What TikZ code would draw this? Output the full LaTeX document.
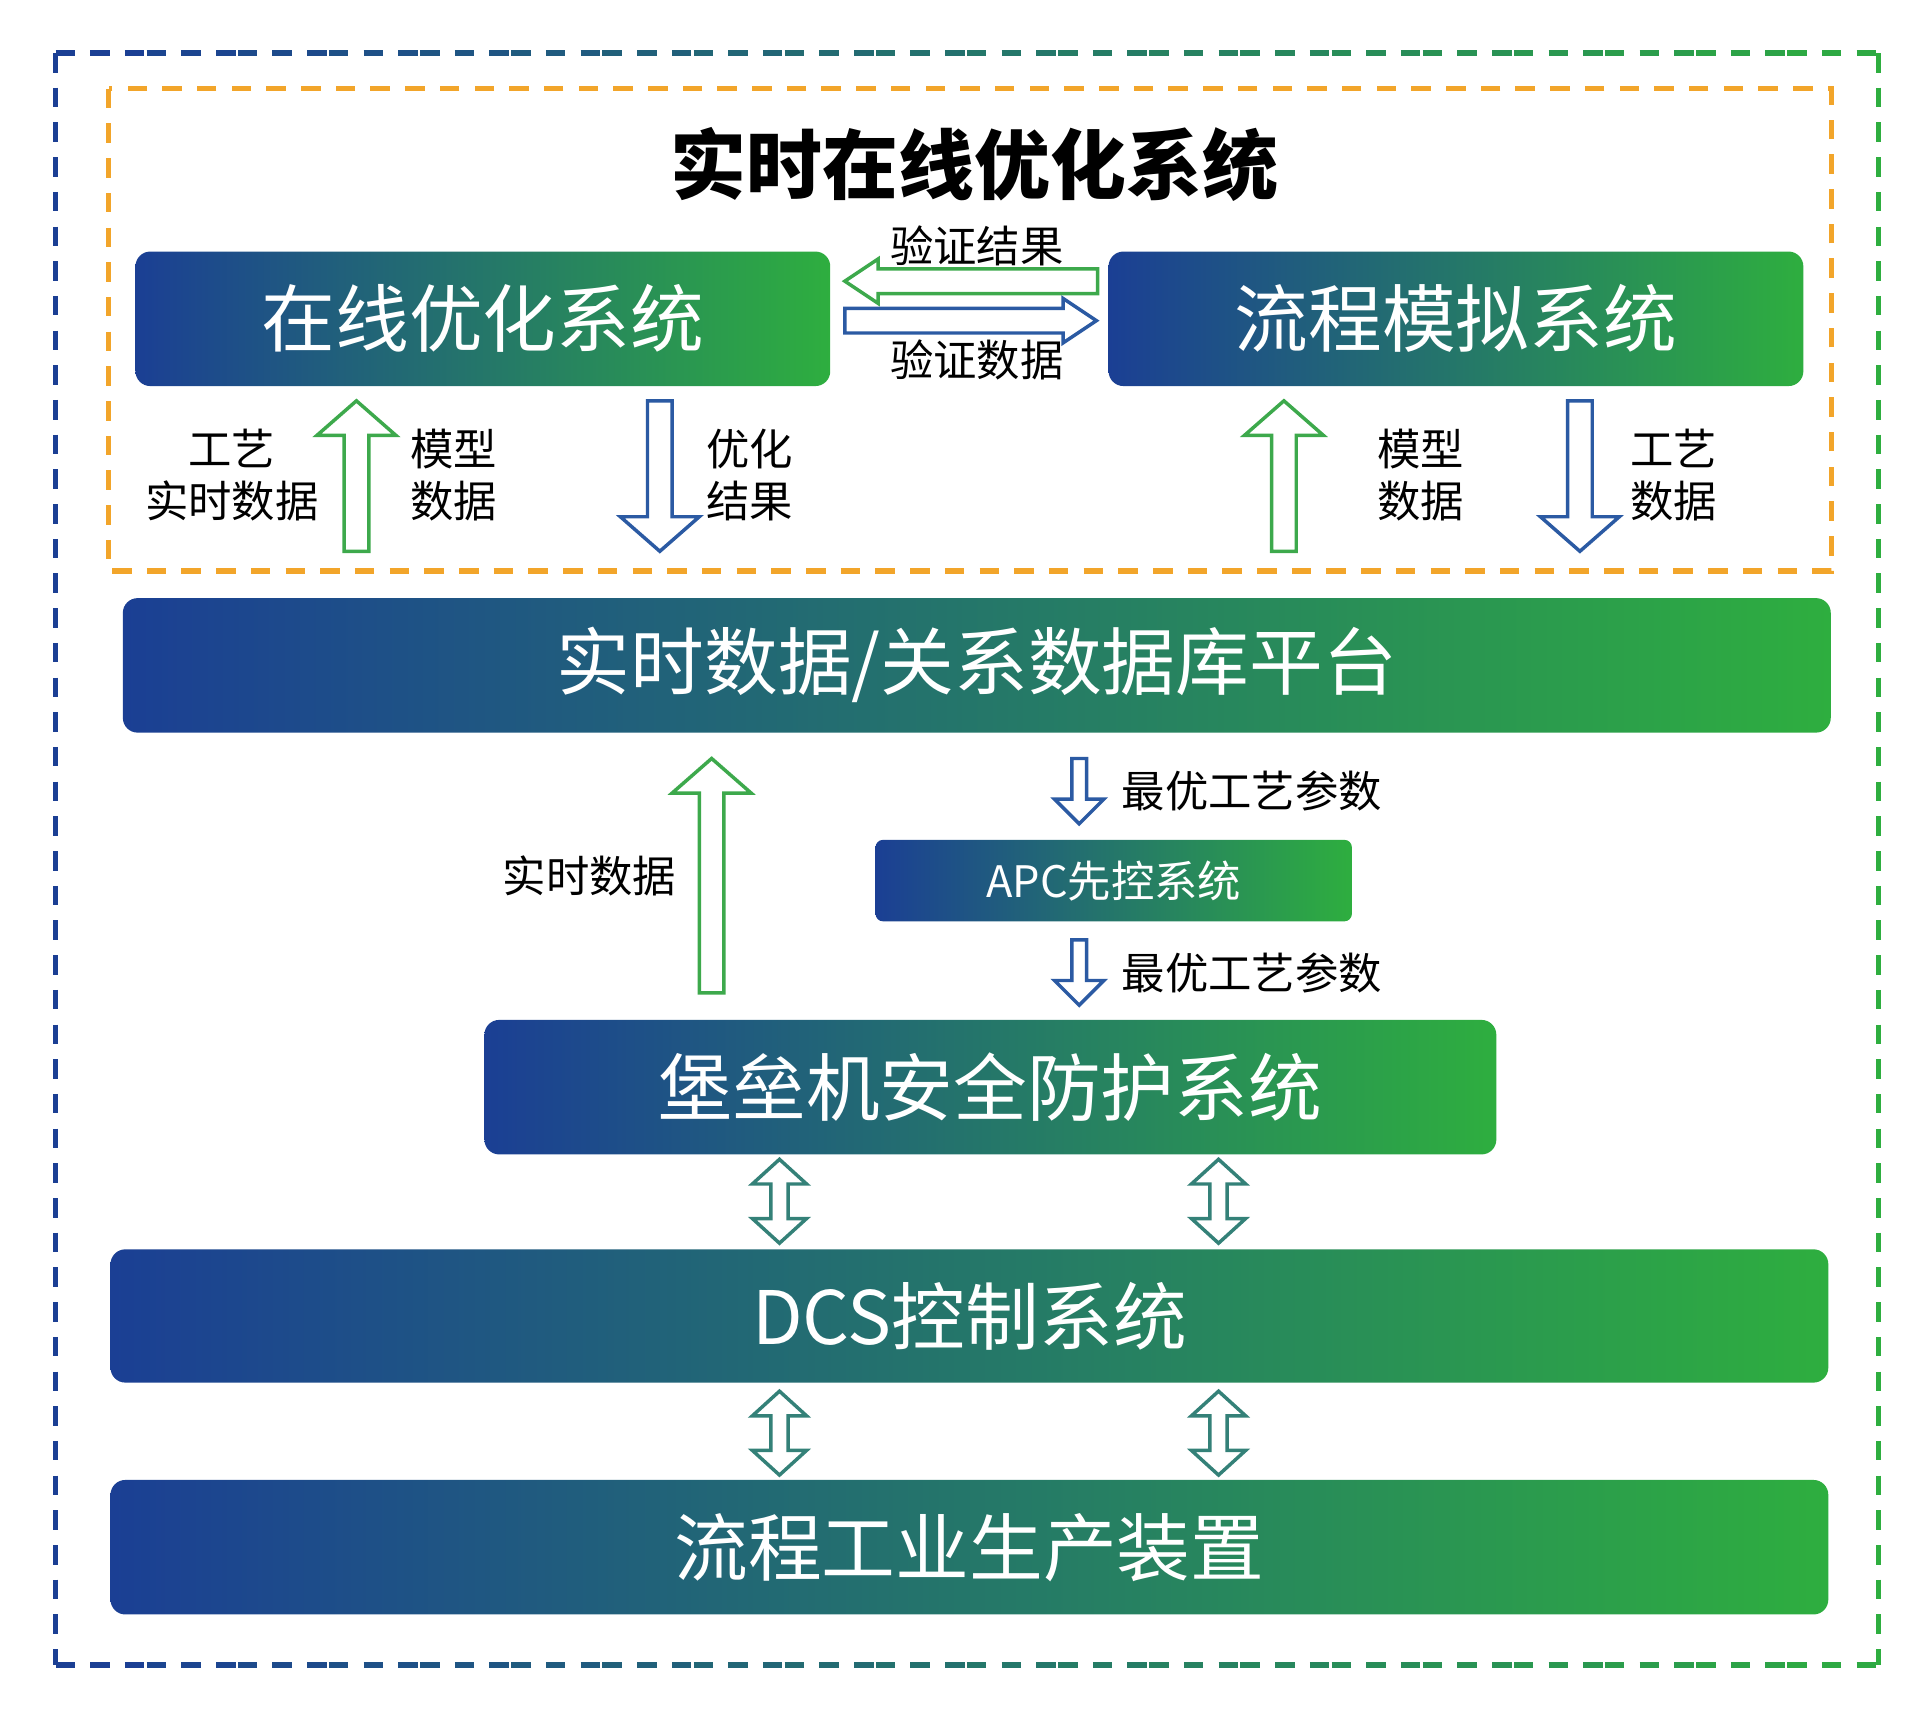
\documentclass[tikz,border=0pt]{standalone}
\usepackage{fontspec}
\setmainfont{Noto Sans CJK SC}
\usetikzlibrary{positioning}
\definecolor{dblue}{HTML}{1B3F94}
\definecolor{dgreen}{HTML}{2EAE3F}
\definecolor{aorange}{HTML}{F2A52A}
\definecolor{ablue}{HTML}{2B5AA3}
\definecolor{agreen}{HTML}{3DA94C}
\tikzset{
  box/.style={rectangle, rounded corners=0.12cm, left color=dblue, right color=dgreen, text=white, inner sep=0, font=\fontsize{17}{17}\selectfont},
  lbl/.style={font=\fontsize{10}{12}\selectfont, align=center, inner sep=0},
  hol/.style={line width=0.8pt, fill=white, line join=miter},
  frame/.style={line width=1.2pt, dash pattern=on 4.5pt off 3.5pt},
}
% hollow arrows: x, tail y, tip y, colour
\newcommand\uparr[4]{\draw[hol,draw=#4] (#1-10,#2) -- (#1-10,#3+28) -- (#1-32,#3+28) -- (#1,#3) -- (#1+32,#3+28) -- (#1+10,#3+28) -- (#1+10,#2) -- cycle;}
\newcommand\dnarr[4]{\draw[hol,draw=#4] (#1-10,#2) -- (#1-10,#3-28) -- (#1-32,#3-28) -- (#1,#3) -- (#1+32,#3-28) -- (#1+10,#3-28) -- (#1+10,#2) -- cycle;}
\newcommand\smdn[3]{\draw[hol,draw=#3] (#1-6,#2) -- (#1-6,#2+33) -- (#1-20,#2+33) -- (#1,#2+53) -- (#1+20,#2+33) -- (#1+6,#2+33) -- (#1+6,#2) -- cycle;}
\newcommand\dblarr[3]{\draw[hol,draw=#3] (#1-7,#2+20) -- (#1-22,#2+20) -- (#1,#2) -- (#1+22,#2+20) -- (#1+7,#2+20) -- (#1+7,#2+48) -- (#1+22,#2+48) -- (#1,#2+68) -- (#1-22,#2+48) -- (#1-7,#2+48) -- cycle;}
\begin{document}
\begin{tikzpicture}[x=0.01cm, y=-0.01cm]
  \useasboundingbox (0,0) rectangle (1560,1386);
  % outer frame
  \foreach \i in {0,...,19}{
    \pgfmathsetmacro\p{100-\i*5}
    \draw[frame, dblue!\p!dgreen] (45+\i*73.9,43) -- (45+\i*73.9+73.9,43);
    \draw[frame, dblue!\p!dgreen] (45+\i*73.9,1350) -- (45+\i*73.9+73.9,1350);
  }
  \draw[frame, dblue] (45,43) -- (45,1350);
  \draw[frame, dgreen] (1523,43) -- (1523,1350);
  \draw[frame, aorange] (88,72) rectangle (1485,463);
  \node (title) at (790,133) {\fontsize{17.5}{18}\selectfont\bfseries 实时在线优化系统};

  \node (opt) [box, minimum width=5.63cm, minimum height=1.09cm] at (391.5,258.5) {在线优化系统};
  \node (sim) [box, minimum width=5.63cm, minimum height=1.09cm] at (1180.5,258.5) {流程模拟系统};
  \draw[hol,draw=agreen] (890,218) -- (712,218) -- (712,210) -- (685,228) -- (712,246) -- (712,238) -- (890,238) -- cycle;
  \draw[hol,draw=ablue] (685,250) -- (862,250) -- (862,242) -- (889,260) -- (862,278) -- (862,270) -- (685,270) -- cycle;
  \node[lbl] (vres) at (792,199) {验证结果};
  \node[lbl] (vdat) at (792,292) {验证数据};

  \uparr{289}{447}{325}{agreen}
  \dnarr{535}{325}{447}{ablue}
  \uparr{1041}{447}{325}{agreen}
  \dnarr{1281}{325}{447}{ablue}
  \node[lbl] (l1) at (188,385) {工艺\\实时数据};
  \node[lbl] (l2) at (368,385) {模型\\数据};
  \node[lbl] (l3) at (608,385) {优化\\结果};
  \node[lbl] (l4) at (1152,385) {模型\\数据};
  \node[lbl] (l5) at (1357,385) {工艺\\数据};

  \node (db) [box, minimum width=13.84cm, minimum height=1.09cm] at (792,539.5) {实时数据/关系数据库平台};

  \uparr{577}{805}{615}{agreen}
  \node[lbl] (rt) at (478,710) {实时数据};
  \smdn{875}{615}{ablue}
  \node[lbl] (p1) at (1015,641) {最优工艺参数};
  \node (apc) [box, rounded corners=0.06cm, minimum width=3.86cm, minimum height=0.66cm, font=\fontsize{10}{10}\selectfont] at (903,714) {APC先控系统};
  \smdn{875}{762}{ablue}
  \node[lbl] (p2) at (1015,789) {最优工艺参数};

  \node (bastion) [box, minimum width=8.2cm, minimum height=1.09cm] at (803,881.5) {堡垒机安全防护系统};
  \dblarr{632}{940}{ablue!50!agreen}
  \dblarr{988}{940}{ablue!50!agreen}
  \node (dcs) [box, minimum width=13.92cm, minimum height=1.08cm] at (786,1067) {DCS控制系统};
  \dblarr{632}{1128}{ablue!50!agreen}
  \dblarr{988}{1128}{ablue!50!agreen}
  \node (plant) [box, minimum width=13.92cm, minimum height=1.09cm] at (786,1254.5) {流程工业生产装置};
\end{tikzpicture}
\end{document}
